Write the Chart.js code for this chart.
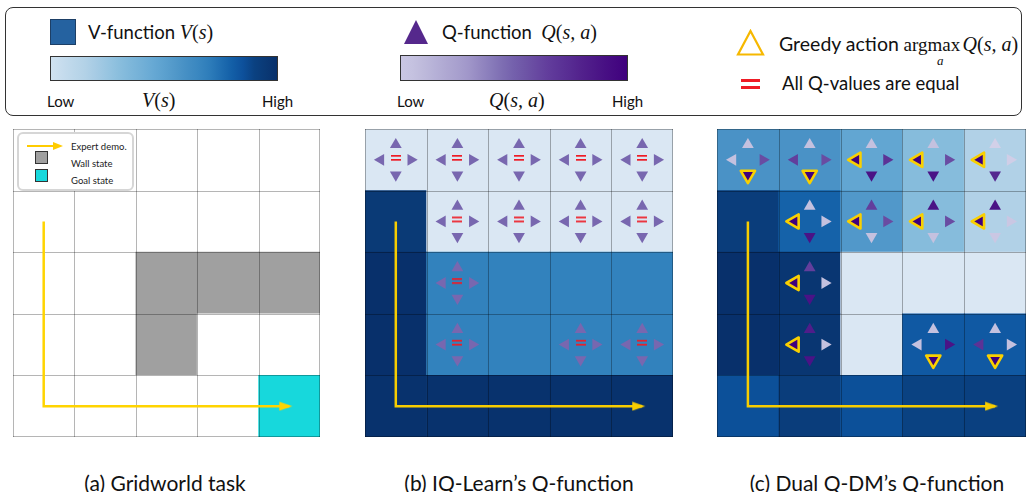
<!DOCTYPE html>
<html><head><meta charset="utf-8">
<script src="https://cdn.jsdelivr.net/npm/chart.js@4.4.1/dist/chart.umd.min.js"></script>
<style>
html,body{margin:0;padding:0;width:1026px;height:492px;overflow:hidden;background:#fff;font-family:Lato,'Open Sans',sans-serif;color:#111}
.abs{position:absolute;white-space:nowrap}
.math{font-family:'Liberation Serif','DejaVu Serif',serif;font-style:italic}
.rm{font-family:'Liberation Serif','DejaVu Serif',serif;font-style:normal}
canvas{position:absolute}
#legend{position:absolute;left:5px;top:7px;width:1017px;height:109px;border:1.3px solid #333;border-radius:8px;box-sizing:border-box}
.bar{position:absolute;border:1px solid #333;box-sizing:border-box}
.t16{font-size:18.5px;line-height:22px}
.t15{font-size:15px;line-height:18px}
.cap{font-size:21px;line-height:24px;transform:translateX(-50%)}
#alegend{position:absolute;left:17px;top:132px;width:117px;height:59px;border:2px solid #d6d6d6;border-radius:6px;box-sizing:border-box;background:#fff;z-index:5}
.lt{position:absolute;font-size:9.5px;line-height:11px;left:52px;color:#222}
.sq{position:absolute;left:16px;width:13px;height:13px;border:1px solid #333;box-sizing:border-box}
</style></head>
<body>
<div id="legend"></div>
<div class="abs" style="left:50px;top:19px;width:26px;height:26px;background:#2562a0;border:1px solid #1d3f66;box-sizing:border-box"></div>
<div class="abs t16" style="left:88px;top:21px">V-function <span class="math" style="font-size:20px">V</span><span class="rm" style="font-size:20px">(</span><span class="math" style="font-size:20px">s</span><span class="rm" style="font-size:20px">)</span></div>
<div class="bar" id="vbar" style="left:50px;top:56px;width:228px;height:25px"></div>
<div class="abs t15" style="left:47px;top:92px">Low</div>
<div class="abs" style="left:142px;top:87px;font-size:20px"><span class="math">V</span><span class="rm">(</span><span class="math">s</span><span class="rm">)</span></div>
<div class="abs t15" style="left:262px;top:92px">High</div>

<svg class="abs" style="left:403px;top:19px" width="26" height="26"><polygon points="13,1 25,25 1,25" fill="#55288c"/></svg>
<div class="abs t16" style="left:442px;top:21px">Q-function&nbsp; <span class="math" style="font-size:20px">Q</span><span class="rm" style="font-size:20px">(</span><span class="math" style="font-size:20px">s, a</span><span class="rm" style="font-size:20px">)</span></div>
<div class="bar" id="qbar" style="left:400px;top:55px;width:228px;height:26px"></div>
<div class="abs t15" style="left:397px;top:92px">Low</div>
<div class="abs" style="left:489px;top:87px;font-size:20px"><span class="math">Q</span><span class="rm">(</span><span class="math">s, a</span><span class="rm">)</span></div>
<div class="abs t15" style="left:612px;top:92px">High</div>

<svg class="abs" style="left:736px;top:29px" width="29" height="27"><polygon points="14.5,2 27,25.5 2,25.5" fill="none" stroke="#f6b800" stroke-width="2.2"/></svg>
<div class="abs t16" style="left:779px;top:33px"><span style="font-size:19.5px">Greedy action</span> <span class="rm" style="font-size:19px">argmax</span>&thinsp;<span class="math" style="font-size:20px">Q</span><span class="rm" style="font-size:20px">(</span><span class="math" style="font-size:20px">s, a</span><span class="rm" style="font-size:20px">)</span></div>
<div class="abs math" style="left:937px;top:53px;font-size:13px">a</div>
<div class="abs" style="left:741px;top:79px;width:19px;height:3px;background:#ee1c25"></div>
<div class="abs" style="left:741px;top:86px;width:19px;height:3px;background:#ee1c25"></div>
<div class="abs t16" style="left:782px;top:72px">All Q-values are equal</div>

<canvas id="ca" width="315" height="316" style="left:9px;top:125px"></canvas>
<canvas id="cb" width="316" height="316" style="left:361px;top:125px"></canvas>
<canvas id="cc" width="317" height="316" style="left:713px;top:125px"></canvas>

<div id="alegend">
  <svg style="position:absolute;left:6px;top:7px" width="40" height="10"><line x1="2" y1="5" x2="30" y2="5" stroke="#ffcc00" stroke-width="2"/><polygon points="28,1 38,5 28,9" fill="#ffcc00"/></svg>
  <div class="lt" style="top:7px">Expert demo.</div>
  <div class="sq" style="top:17px;background:#a0a0a0"></div>
  <div class="lt" style="top:24px">Wall state</div>
  <div class="sq" style="top:35px;background:#17d8dc"></div>
  <div class="lt" style="top:41px">Goal state</div>
</div>

<div class="abs cap" style="left:165px;top:471px">(a) Gridworld task</div>
<div class="abs cap" style="left:519px;top:471px">(b) IQ-Learn’s Q-function</div>
<div class="abs cap" style="left:877px;top:471px">(c) Dual Q-DM’s Q-function</div>

<script>
// ---------------- data ----------------
const gridRows = 5, gridCols = 5;
const wallCells = [[2,2],[2,3],[2,4],[3,2]];        // [row, col]
const goalCell = [4,4];
const demoWaypoints = [[1,0],[4,0],[4,4]];          // [row, col] expert trajectory

// V(s) estimates (0 = low, 1 = high)
const vIQLearn = [
  [0.00,0.00,0.00,0.00,0.00],
  [0.95,0.00,0.00,0.00,0.00],
  [1.00,0.70,0.70,0.70,0.70],
  [1.00,0.70,0.70,0.70,0.70],
  [0.99,0.99,0.99,0.99,0.99]];
const vDualQDM = [
  [0.60,0.60,0.50,0.35,0.20],
  [0.93,0.80,0.57,0.35,0.20],
  [1.00,0.97,0.00,0.00,0.00],
  [1.00,0.97,0.00,0.83,0.83],
  [0.86,0.93,0.86,0.90,0.91]];

// IQ-Learn: all four Q-values equal in each shown state
const qIQLearn = [
  [0.55,0.55,0.55,0.55,0.55],
  [null,0.55,0.55,0.55,0.55],
  [null,0.55,null,null,null],
  [null,0.55,null,0.55,0.55],
  [null,null,null,null,null]];

// Dual Q-DM Q(s,a) estimates per action
const qUp = [
  [0.20,0.20,0.20,0.20,0.08],
  [null,0.20,0.70,0.90,0.90],
  [null,0.70,null,null,null],
  [null,0.85,null,0.20,0.20],
  [null,null,null,null,null]];
const qDown = [
  [1.00,1.00,0.90,0.90,0.80],
  [null,0.90,0.20,0.20,0.15],
  [null,0.90,null,null,null],
  [null,0.90,null,1.00,1.00],
  [null,null,null,null,null]];
const qLeft = [
  [0.20,0.70,1.00,1.00,1.00],
  [null,1.00,1.00,1.00,1.00],
  [null,1.00,null,null,null],
  [null,1.00,null,0.20,0.75],
  [null,null,null,null,null]];
const qRight = [
  [0.65,0.65,0.75,0.65,0.10],
  [null,0.20,0.65,0.65,0.15],
  [null,0.20,null,null,null],
  [null,0.20,null,0.90,0.20],
  [null,null,null,null,null]];

// ---------------- colour maps ----------------
const bluesStops = [[0,'#dae7f3'],[0.2,'#b1d1e7'],[0.35,'#86bcdc'],[0.5,'#62a6d2'],[0.6,'#4a92c6'],[0.7,'#3282bd'],[0.8,'#1562a9'],[0.85,'#0d539f'],[0.9,'#0a4282'],[0.95,'#0a3a76'],[1,'#08306b']];
const purplesStops = [[0,'#dcdaee'],[0.2,'#c4c1df'],[0.4,'#a198ca'],[0.55,'#7867af'],[0.7,'#623e9c'],[0.85,'#4f1d8a'],[1,'#3f007d']];
function hex2rgb(h){return [1,3,5].map(i=>parseInt(h.substr(i,2),16));}
function cmap(stops,t){
  t=Math.max(0,Math.min(1,t));
  for(let i=1;i<stops.length;i++){
    if(t<=stops[i][0]){
      const [t0,c0]=stops[i-1],[t1,c1]=stops[i];
      const f=(t-t0)/(t1-t0), a=hex2rgb(c0), b=hex2rgb(c1);
      return 'rgb('+a.map((v,k)=>Math.round(v+(b[k]-v)*f)).join(',')+')';
    }
  }
  return stops[stops.length-1][1];
}
const blues=t=>cmap(bluesStops,t), purples=t=>cmap(purplesStops,t);
function gradCSS(fn,t0){const s=[];for(let i=0;i<=20;i++){const u=i/20;s.push(fn(t0+(1-t0)*u)+' '+(u*100)+'%');}return 'linear-gradient(to right,'+s.join(',')+')';}
document.getElementById('vbar').style.background=gradCSS(blues,0.05);
document.getElementById('qbar').style.background=gradCSS(purples,0.15);

// ---------------- point style images ----------------
function makeEq(){const c=document.createElement('canvas');c.width=10;c.height=8;const g=c.getContext('2d');g.fillStyle='#ee1c25';g.fillRect(0,1,10,1.7);g.fillRect(0,5,10,1.7);return c;}
function makeHead(col){const c=document.createElement('canvas');c.width=26;c.height=10;const g=c.getContext('2d');g.fillStyle=col;g.beginPath();g.moveTo(3,0.5);g.lineTo(16,5);g.lineTo(3,9.5);g.closePath();g.fill();return c;}
const eqImg=makeEq();

// ---------------- chart helpers ----------------
const isWall=(r,c)=>wallCells.some(w=>w[0]===r&&w[1]===c);
const pathData=demoWaypoints.map(([r,c])=>({x:c+0.5,y:r+0.5}));
const dirs=[{k:'up',dx:0,dy:-1,rot:0},{k:'right',dx:1,dy:0,rot:90},{k:'down',dx:0,dy:1,rot:180},{k:'left',dx:-1,dy:0,rot:270}];
const OFF=0.245;

const roundJoin={id:'roundJoin',beforeDatasetsDraw(ch){ch.ctx.lineJoin='round';},afterDatasetsDraw(ch){ch.ctx.lineJoin='miter';}};
// grid lines drawn right after the cells, using the chart's own scales
const gridLines={id:'gridLines',afterDatasetDraw(ch,args,opts){
  if(args.meta.type!=='bar')return;
  const {x,y}=ch.scales, ctx=ch.ctx;
  ctx.save();ctx.strokeStyle=opts.color;ctx.lineWidth=1;ctx.beginPath();
  const xa=Math.min(x.getPixelForValue(x.min),x.getPixelForValue(x.max)),xb=Math.max(x.getPixelForValue(x.min),x.getPixelForValue(x.max));
  const ya=Math.min(y.getPixelForValue(y.min),y.getPixelForValue(y.max)),yb=Math.max(y.getPixelForValue(y.min),y.getPixelForValue(y.max));
  for(let v=x.min;v<=x.max;v++){let p=Math.round(x.getPixelForValue(v));if(p>=xb)p=Math.round(xb)-1;ctx.moveTo(p+0.5,ya);ctx.lineTo(p+0.5,yb);}
  for(let v=y.min;v<=y.max;v++){let p=Math.round(y.getPixelForValue(v));if(p>=yb)p=Math.round(yb)-1;ctx.moveTo(xa,p+0.5);ctx.lineTo(xb,p+0.5);}
  ctx.stroke();ctx.restore();
}};

function scales(){
  const ax={type:'linear',display:false,min:0,max:5,offset:false,ticks:{stepSize:1},grid:{offset:false}};
  return {x:{...ax},y:{...ax,reverse:true,beginAtZero:false}};
}

function makeChart(id,cellColor,arrowSets,eqPoints,yellow,gridCol){
  const cells=[],colors=[];
  for(let r=0;r<gridRows;r++)for(let c=0;c<gridCols;c++){cells.push({x:c+0.5,y:[r,r+1]});colors.push(cellColor(r,c));}
  const datasets=[];
  datasets.push({type:'line',data:pathData,borderColor:yellow,borderWidth:2.5,pointRadius:0,fill:false,tension:0,order:0,borderCapStyle:'butt',borderJoinStyle:'miter'});
  const end=pathData[pathData.length-1];
  datasets.push({type:'scatter',data:[end],pointStyle:makeHead(yellow),pointRadius:6,order:0});
  if(eqPoints.length) datasets.push({type:'scatter',data:eqPoints,pointStyle:eqImg,pointRadius:5,order:1});
  arrowSets.forEach(s=>datasets.push({type:'scatter',data:s.pts,pointStyle:'triangle',pointRotation:s.rot,pointRadius:s.rad,pointBackgroundColor:s.bg,pointBorderColor:s.bc,pointBorderWidth:s.bw,order:2}));
  datasets.push({type:'bar',data:cells,backgroundColor:colors,borderWidth:0,barPercentage:1,categoryPercentage:1,order:3});
  return new Chart(document.getElementById(id),{type:'bar',data:{datasets},plugins:[roundJoin,gridLines],
    options:{responsive:false,animation:false,events:[],layout:{padding:4,autoPadding:false},
      plugins:{legend:{display:false},tooltip:{enabled:false},gridLines:{color:gridCol}},scales:scales()}});
}

function arrowsFrom(getQ){
  const normal={pts:[],rot:[],rad:[],bg:[],bc:[],bw:[]}, greedy={pts:[],rot:[],rad:[],bg:[],bc:[],bw:[]};
  for(let r=0;r<gridRows;r++)for(let c=0;c<gridCols;c++){
    const qs=dirs.map(d=>getQ(d.k,r,c));
    if(qs[0]==null)continue;
    const mx=Math.max(...qs), allEq=qs.every(q=>q===qs[0]);
    dirs.forEach((d,i)=>{
      const g=(!allEq&&qs[i]===mx)?greedy:normal;
      g.pts.push({x:c+0.5+d.dx*OFF,y:r+0.5+d.dy*OFF});g.rot.push(d.rot);
      g.rad.push(g===greedy?8.2:6.8);g.bg.push(purples(qs[i]));g.bc.push('#f9d000');g.bw.push(g===greedy?2.6:0);
    });
  }
  return [normal,greedy];
}

// (a) gridworld
makeChart('ca',(r,c)=>isWall(r,c)?'#a0a0a0':(r===goalCell[0]&&c===goalCell[1]?'#17d8dc':'#ffffff'),[],[], '#ffd400','rgba(0,0,0,0.29)');

// (b) IQ-Learn
const eqPts=[];
for(let r=0;r<gridRows;r++)for(let c=0;c<gridCols;c++)if(qIQLearn[r][c]!=null)eqPts.push({x:c+0.5,y:r+0.5-0.03});
makeChart('cb',(r,c)=>blues(vIQLearn[r][c]),arrowsFrom((k,r,c)=>qIQLearn[r][c]),eqPts,'#f7cd00','rgba(0,0,0,0.3)');

// (c) Dual Q-DM
const qTab={up:qUp,down:qDown,left:qLeft,right:qRight};
makeChart('cc',(r,c)=>blues(vDualQDM[r][c]),arrowsFrom((k,r,c)=>qTab[k][r][c]),[],'#f7cd00','rgba(0,0,0,0.3)');
</script>
</body></html>
